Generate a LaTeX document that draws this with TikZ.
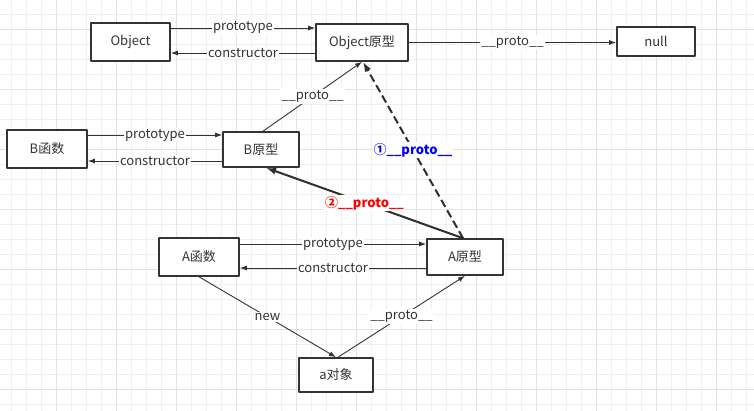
\documentclass[tikz,border=0pt]{standalone}
\usepackage{fontspec}
\setmainfont{Noto Sans CJK SC}
\usetikzlibrary{arrows.meta}
\definecolor{ink}{HTML}{333333}
\definecolor{gridminor}{HTML}{F0F0F0}
\definecolor{gridmajor}{HTML}{E2E2E2}
\definecolor{protoblue}{HTML}{0000FF}
\definecolor{protored}{HTML}{FF0000}
\begin{document}
\begin{tikzpicture}[x=1pt,y=-1pt,line join=round,>={Latex[length=7pt,width=5pt]},
		box/.style={draw=ink,line width=1.6pt,fill=white,text=ink,inner sep=0pt,font=\fontsize{13}{15}\selectfont},
		lbl/.style={fill=white,text=ink,inner sep=1pt,font=\fontsize{13}{15}\selectfont},
		conn/.style={->,draw=ink,line width=0.9pt},
		heavy/.style={-{Latex[length=10pt,width=7pt]},draw=ink!90!black,line width=2pt}]
			\def\w{754}
			\def\h{411}
			\useasboundingbox (0,0) rectangle (\w,\h);
			\fill[white] (0,0) rectangle (\w,\h);
			\foreach \x in {11,26,...,754} \draw[gridminor,line width=0.8pt] (\x,0)--(\x,\h);
			\foreach \y in {14,29,...,411} \draw[gridminor,line width=0.8pt] (0,\y)--(\w,\y);
			\foreach \x in {56,116,...,754} \draw[gridmajor,line width=0.8pt] (\x,0)--(\x,\h);
			\foreach \y in {29,89,...,411} \draw[gridmajor,line width=0.8pt] (0,\y)--(\w,\y);
			\node[box,minimum width=79pt,minimum height=38pt] (obj) at (130.5,42) {Object};
			\node[box,minimum width=92pt,minimum height=37pt] (objp) at (362,42.5) {Object原型};
			\node[box,minimum width=78pt,minimum height=29pt] (null) at (656,41.5) {null};
			\node[box,minimum width=80pt,minimum height=38pt] (bfn) at (47,149) {B函数};
			\node[box,minimum width=76pt,minimum height=35pt] (bp) at (261,149.5) {B原型};
			\node[box,minimum width=80pt,minimum height=38pt] (afn) at (199,257) {A函数};
			\node[box,minimum width=76pt,minimum height=36pt] (ap) at (465,257) {A原型};
			\node[box,minimum width=74pt,minimum height=34pt] (aobj) at (336,375) {a对象};
			\draw[conn] ([yshift=14pt]obj.east) -- ([yshift=14pt]obj.east -| objp.west) node[lbl,midway]{prototype};
			\draw[conn] ([yshift=-10.5pt]objp.west) -- ([yshift=-10.5pt]objp.west -| obj.east) node[lbl,midway]{constructor};
			\draw[conn] (objp.east) -- (objp.east -| null.west) node[lbl,midway]{\_\_proto\_\_};
			\draw[conn] ([yshift=14pt]bfn.east) -- ([yshift=14pt]bfn.east -| bp.west) node[lbl,midway]{prototype};
			\draw[conn] ([yshift=-11.5pt]bp.west) -- ([yshift=-11.5pt]bp.west -| bfn.east) node[lbl,midway]{constructor};
			\draw[conn] ([xshift=2pt]bp.north) -- (objp.south) node[lbl,midway]{\_\_proto\_\_};
			\draw[heavy,dash pattern=on 8pt off 4pt] ([xshift=-2pt]ap.north) -- ([xshift=1pt]objp.south) node[lbl,midway,text=protoblue,font=\fontsize{13}{15}\selectfont\bfseries]{①\_\_proto\_\_};
			\draw[heavy] ([xshift=-2pt]ap.north) -- ([xshift=5pt]bp.south) node[lbl,midway,text=protored,font=\fontsize{13}{15}\selectfont\bfseries]{②\_\_proto\_\_};
			\draw[conn] ([yshift=13pt]afn.east) -- ([yshift=13pt]afn.east -| ap.west) node[lbl,midway]{prototype};
			\draw[conn] ([yshift=-11pt]ap.west) -- ([yshift=-11pt]ap.west -| afn.east) node[lbl,midway]{constructor};
			\draw[conn] (afn.south) -- (aobj.north) node[lbl,midway]{new};
			\draw[conn] ([xshift=2pt]aobj.north) -- (ap.south) node[lbl,midway]{\_\_proto\_\_};
		\end{tikzpicture}
\end{document}
